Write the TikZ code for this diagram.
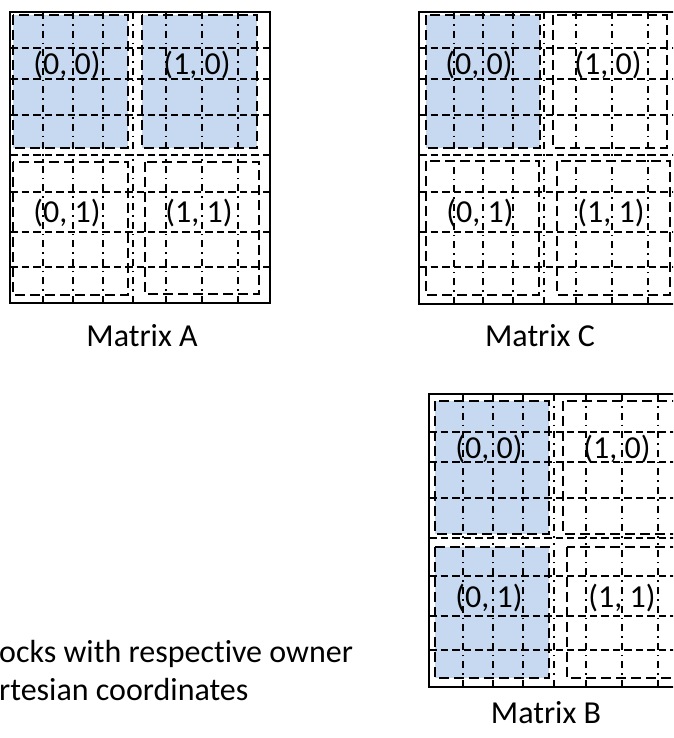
\documentclass[tikz,border=0pt]{standalone}
\usepackage{fontspec}
\setmainfont{Carlito}[Ligatures=NoCommon]
\definecolor{ownerblue}{RGB}{198,217,241}

% dash-dot verticals and dashed horizontals of one matrix, drawn from each edge
% towards the middle so that every line starts with a dash at the frame
% #1 left, #2 top, #3 right, #4 bottom, #5 x positions, #6 y positions
\newcommand\gridmatrix[6]{%
  \foreach \gx in {#5} {
    \draw[vgrid] (\gx,#2) -- (\gx,{(#2+#4)/2});
    \draw[vgrid] (\gx,#4) -- (\gx,{(#2+#4)/2});
  }
  \foreach \gy in {#6} {
    \draw[hgrid] (#1,\gy) -- ({(#1+#3)/2},\gy);
    \draw[hgrid] (#3,\gy) -- ({(#1+#3)/2},\gy);
  }
}

\begin{document}
\begin{tikzpicture}[x=1pt,y=-1pt,
  outerframe/.style={line width=2.6pt},
  vgrid/.style={line width=1.9pt, dash pattern=on 7pt off 5pt on 1.6pt off 5pt},
  hgrid/.style={line width=1.9pt, dash pattern=on 7.5pt off 4pt},
  blockedge/.style={line width=2.4pt, dash pattern=on 10pt off 5pt},
  owned/.style={fill=ownerblue},
  lbl/.style={font=\fontsize{32}{38}\selectfont, inner sep=0pt, anchor=base},
  caption/.style={font=\fontsize{32}{38}\selectfont, inner sep=0pt, anchor=base west},
]
\useasboundingbox (0,0) rectangle (673,738);
\clip (0,0) rectangle (673,738);

% ---------- Matrix A ----------
\fill[owned] (13,15) rectangle (128,148);
\fill[owned] (142,15) rectangle (257,148);
\gridmatrix{10}{12}{270}{303}{43,73,103,133,166,202,238}{48,79,115,155,192,232,267}
\draw[blockedge] (13,15) rectangle (128,148);
\draw[blockedge] (142,15) rectangle (257,148);
\draw[blockedge] (13,162) rectangle (128,295);
\draw[blockedge] (145,162) rectangle (259,294);
\draw[outerframe] (10,12) rectangle (270,303);
\node[lbl] (a00) at (67,75) {(0, 0)};
\node[lbl] (a10) at (197,75) {(1, 0)};
\node[lbl] (a01) at (67,222) {(0, 1)};
\node[lbl] (a11) at (199,222) {(1, 1)};
\node[lbl] (namea) at (142,346) {Matrix A};

% ---------- Matrix C ----------
\fill[owned] (426,15) rectangle (540,148);
\gridmatrix{419}{12}{679}{304}{454,483,513,544,576,612,648}{48,79,115,155,192,232,267}
\draw[blockedge] (426,15) rectangle (540,148);
\draw[blockedge] (553,15) rectangle (667,148);
\draw[blockedge] (426,161) rectangle (539,295);
\draw[blockedge] (557,161) rectangle (670,295);
\draw[outerframe] (419,12) rectangle (679,304);
\node[lbl] (c00) at (479,75) {(0, 0)};
\node[lbl] (c10) at (608,75) {(1, 0)};
\node[lbl] (c01) at (480,222) {(0, 1)};
\node[lbl] (c11) at (611,222) {(1, 1)};
\node[lbl] (namec) at (540,346) {Matrix C};

% ---------- Matrix B ----------
\fill[owned] (435,401) rectangle (549,534);
\fill[owned] (435,547) rectangle (549,678);
\gridmatrix{429}{394}{689}{687}{463,493,523,554,586,622,658}{432,462,498,538,576,616,650}
\draw[blockedge] (435,401) rectangle (549,534);
\draw[blockedge] (563,401) rectangle (677,534);
\draw[blockedge] (435,547) rectangle (549,678);
\draw[blockedge] (567,547) rectangle (680,678);
\draw[outerframe] (429,394) rectangle (689,687);
\node[lbl] (b00) at (489,458) {(0, 0)};
\node[lbl] (b10) at (617,458) {(1, 0)};
\node[lbl] (b01) at (489,607) {(0, 1)};
\node[lbl] (b11) at (622,607) {(1, 1)};
\node[lbl] (nameb) at (546,723) {Matrix B};

% ---------- caption ----------
\node[caption] (cap1) at (-1,662) {ocks with respective owner};
\node[caption] (cap2) at (-1,700) {rtesian coordinates};
\end{tikzpicture}
\end{document}
